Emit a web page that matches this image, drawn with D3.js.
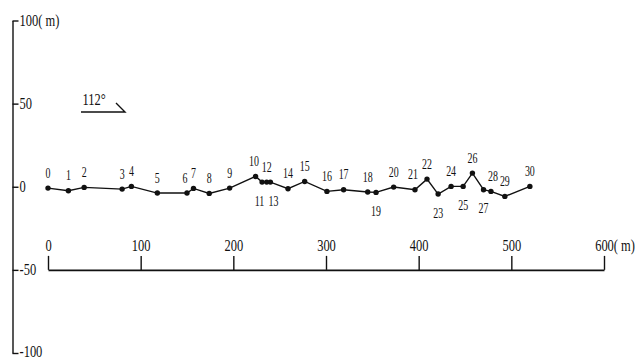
<!DOCTYPE html>
<html><head><meta charset="utf-8">
<script src="https://cdn.jsdelivr.net/npm/d3@7/dist/d3.min.js"></script>
<style>html,body{margin:0;padding:0;background:#fff;} svg{display:block;}</style>
</head><body><svg id="c" width="636" height="360"></svg>
<script>
// ---- data ----
const stationLabels = ["0","1","2","3","4","5","6","7","8","9","10","11","12","13","14","15","16","17","18","19","20","21","22","23","24","25","26","27","28","29","30"];
const distance = [0,22,39,80,90,118,150,157,174,196,224,231,236,240,259,277,301,319,345,354,373,396,409,421,435,448,458,470,478,493,520];
const elevation = [-0.8,-2.4,-0.4,-1.4,0.2,-3.8,-3.8,-1.0,-4.0,-0.8,6.2,2.8,2.8,2.8,-1.2,3.2,-2.8,-1.8,-3.2,-3.4,-0.2,-1.8,4.6,-4.4,0.2,0.2,8.2,-1.8,-2.8,-5.8,0.2];
const labelsBelow = ["11","13","19","23","25","27"];
const yTicks = [100,50,0,-50,-100];
const xTicks = [0,100,200,300,400,500,600];
const unitText = "( m)";
const azimuthText = "112°";

// ---- layout ----
const svg = d3.select("#c");
const FONT = "'Liberation Serif','Times New Roman',serif";
const INK = "#111";
const x = d3.scaleLinear().domain([0,600]).range([48,604]);
const y = d3.scaleLinear().domain([-100,100]).range([353,20.5]);

function squeeze(sel, sx){
  sel.each(function(){
    const t = d3.select(this);
    const xx = +(t.attr("x")||0);
    t.attr("x", xx/sx).attr("transform", `scale(${sx},1)`);
  });
}

// left vertical axis
const gy = svg.append("g").attr("transform","translate(12.5,0)")
  .call(d3.axisRight(y).tickValues(yTicks).tickSize(6).tickSizeOuter(0).tickPadding(1)
    .tickFormat(d => d===100 ? "100"+unitText : (d<0 ? "-"+(-d) : String(d))));
gy.select(".domain").attr("stroke",INK).attr("stroke-width",1.4);
gy.selectAll(".tick line").attr("stroke",INK).attr("stroke-width",1.4);
gy.selectAll("text").attr("font-family",FONT).attr("font-size",16).attr("fill",INK);
squeeze(gy.selectAll("text"), 0.78);
gy.selectAll(".tick text").filter(d => d===-100).attr("dy","0.2em");

// horizontal scale bar
const gx = svg.append("g").attr("transform",`translate(0,${y(-50)})`)
  .call(d3.axisTop(x).tickValues(xTicks).tickSize(14).tickSizeOuter(0).tickPadding(5));
gx.select(".domain").attr("stroke",INK).attr("stroke-width",1.8);
gx.selectAll(".tick line").attr("stroke",INK).attr("stroke-width",1.4);
gx.selectAll("text").attr("font-family",FONT).attr("font-size",16).attr("fill",INK);
squeeze(gx.selectAll("text"), 0.78);
const lastT = gx.selectAll(".tick text").filter(d => d===600);
const w600 = lastT.node().getComputedTextLength();
lastT.text("600"+unitText).attr("text-anchor","start").attr("x", -w600/2);

// profile line
const pts = distance.map((d,i)=>({d, e:elevation[i], lab:stationLabels[i]}));
svg.append("path").datum(pts)
  .attr("d", d3.line().x(p=>x(p.d)).y(p=>y(p.e)))
  .attr("fill","none").attr("stroke",INK).attr("stroke-width",1.4);
svg.append("g").selectAll("circle").data(pts).join("circle")
  .attr("cx",p=>x(p.d)).attr("cy",p=>y(p.e)).attr("r",2.7).attr("fill",INK);

// station labels
const nudge = {"6":-2,"10":-1.5,"11":-2.5,"13":3,"21":-2,"28":2};
svg.append("g").selectAll("text").data(pts).join("text")
  .attr("transform", p => {
    const below = labelsBelow.includes(p.lab);
    const tx = x(p.d) + (nudge[p.lab]||0);
    const ty = y(p.e) + (below ? 23.5 : -10.5);
    return `translate(${tx},${ty}) scale(0.64,1)`;
  })
  .attr("text-anchor","middle").attr("font-family",FONT).attr("font-size",15.5).attr("fill",INK)
  .text(p=>p.lab);

// azimuth symbol
svg.append("text").attr("transform","translate(82.5,105) scale(0.78,1)")
  .attr("font-family",FONT).attr("font-size",16).attr("fill",INK).text(azimuthText);
svg.append("path").attr("d","M81,112H125L116,103")
  .attr("fill","none").attr("stroke",INK).attr("stroke-width",1.4);
</script></body></html>
